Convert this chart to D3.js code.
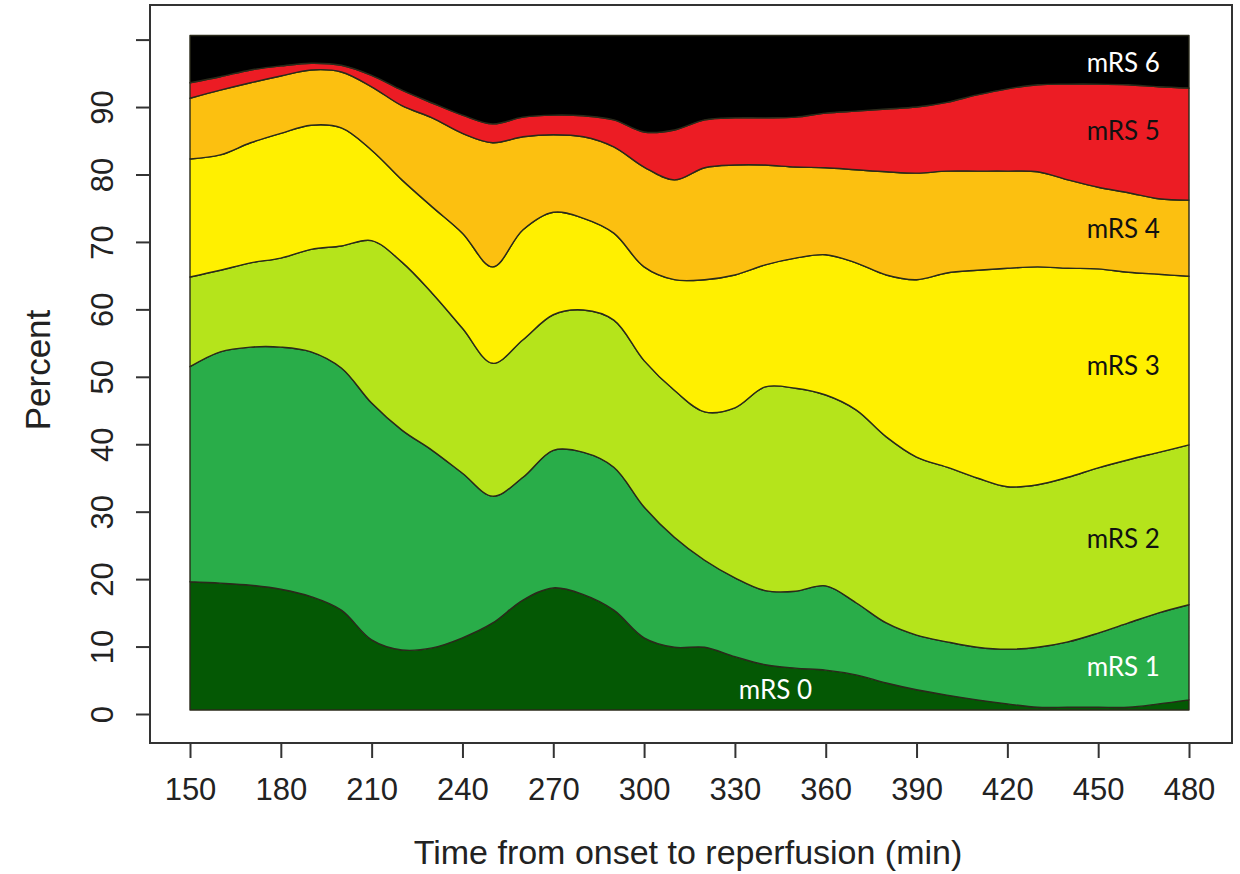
<!DOCTYPE html>
<html>
<head>
<meta charset="utf-8">
<script src="https://cdn.jsdelivr.net/npm/d3@7"></script>
<style>
  body { margin: 0; background: #fff; }
</style>
</head>
<body>
<div id="wrapper"></div>
<script>
// Tempo desde o inicio ate a reperfusao (min)
const times = [150, 160, 170, 180, 190, 200, 210, 220, 230, 240, 250, 260, 270, 280, 290, 300, 310,
  320, 330, 340, 350, 360, 370, 380, 390, 400, 410, 420, 430, 440, 450, 460, 470, 480];

// Percentual de cada categoria mRS em cada tempo
const mrs0 = [19.0, 18.8, 18.5, 17.9, 16.8, 14.8, 10.4, 8.9, 9.2, 10.7, 12.9, 16.3, 18.1, 17.1, 14.8, 10.7, 9.3,
  9.3, 7.9, 6.7, 6.2, 5.9, 5.2, 4.0, 3.0, 2.2, 1.5, 0.9, 0.4, 0.4, 0.4, 0.4, 0.9, 1.5];
const mrs1 = [31.9, 34.3, 35.3, 35.9, 36.3, 35.9, 35.1, 32.6, 29.3, 24.4, 18.8, 18.2, 20.4, 21.1, 21.2, 19.4, 16.3,
  12.9, 11.7, 11.0, 11.4, 12.5, 10.7, 8.9, 8.1, 7.9, 7.8, 8.1, 8.9, 9.7, 11.0, 12.5, 13.5, 14.1];
const mrs2 = [13.3, 12.1, 12.5, 13.2, 15.2, 18.1, 24.1, 24.9, 23.3, 21.5, 19.7, 20.4, 20.1, 21.1, 21.8, 21.7, 21.8,
  22.0, 25.2, 30.2, 30.1, 28.3, 28.6, 27.6, 26.4, 25.9, 25.1, 24.1, 24.1, 24.4, 24.5, 24.2, 23.8, 23.7];
const mrs3 = [17.5, 17.1, 17.8, 18.5, 18.4, 17.5, 13.4, 12.2, 12.8, 14.1, 14.3, 16.3, 15.2, 13.6, 12.9, 13.9, 16.4,
  19.6, 19.7, 18.1, 19.3, 20.8, 21.8, 24.0, 26.3, 28.8, 30.8, 32.4, 32.3, 31.0, 29.5, 27.8, 26.4, 25.0];
const mrs4 = [9.0, 9.6, 8.9, 8.5, 8.2, 8.3, 9.4, 11.0, 13.2, 14.8, 18.4, 13.8, 11.5, 12.1, 12.8, 14.8, 14.8,
  16.6, 16.3, 14.8, 13.5, 12.9, 13.8, 15.3, 15.8, 15.1, 14.7, 14.4, 14.1, 13.1, 12.1, 11.8, 11.2, 11.3];
const mrs5 = [2.3, 2.0, 1.9, 1.5, 1.0, 1.0, 1.7, 2.3, 2.2, 2.7, 2.8, 2.9, 2.9, 3.1, 4.0, 5.2, 7.4,
  7.1, 7.0, 7.0, 7.4, 8.1, 8.7, 9.3, 9.8, 10.2, 11.3, 12.2, 12.9, 14.2, 15.3, 16.0, 16.6, 16.6];
const mrs6 = [7.0, 6.1, 5.1, 4.5, 4.1, 4.4, 5.9, 8.1, 10.0, 11.8, 13.1, 12.1, 11.8, 11.9, 12.5, 14.3, 14.0,
  12.5, 12.2, 12.2, 12.1, 11.5, 11.2, 10.9, 10.6, 9.9, 8.8, 7.9, 7.3, 7.2, 7.2, 7.3, 7.6, 7.8];

const seriesNames = ["mRS 0", "mRS 1", "mRS 2", "mRS 3", "mRS 4", "mRS 5", "mRS 6"];
const seriesColors = ["#045804", "#29ad49", "#b5e41b", "#fff000", "#fcc010", "#ec1c24", "#000000"];
const labelColors = ["#ffffff", "#ffffff", "#111111", "#111111", "#111111", "#111111", "#ffffff"];
// posicao dos rotulos (tempo da borda direita, percentual da linha de base)
const labelTimes = [355.5, 470.4, 470.4, 470.4, 470.4, 470.4, 470.4];
const labelValues = [2.2, 5.6, 24.6, 50.3, 70.6, 85.1, 95.2];

const xTicks = [150, 180, 210, 240, 270, 300, 330, 360, 390, 420, 450, 480];
const yTicks = [0, 10, 20, 30, 40, 50, 60, 70, 80, 90, 100];
const yTickLabels = ["0", "10", "20", "30", "40", "50", "60", "70", "80", "90", ""];
const baseline = 0.6;

function draw() {
  const dimensions = {
    width: 1240,
    height: 874,
    box: { left: 150, top: 5, right: 1232, bottom: 743 }
  };

  const rows = times.map((t, i) => {
    const row = { time: t };
    [mrs0, mrs1, mrs2, mrs3, mrs4, mrs5, mrs6].forEach((s, k) => { row[seriesNames[k]] = s[i]; });
    return row;
  });

  const svg = d3.select("#wrapper")
    .append("svg")
    .attr("width", dimensions.width)
    .attr("height", dimensions.height)
    .style("font-family", "'Liberation Sans', Arial, sans-serif");

  // Escalas
  const xScale = d3.scaleLinear().domain([150, 480]).range([190, 1189]);
  const yScale = d3.scaleLinear().domain([0, 100]).range([714, 39.6]);

  const stack = d3.stack().keys(seriesNames);
  const layers = stack(rows);
  layers.forEach(layer => layer.forEach(p => { p[0] += baseline; p[1] += baseline; }));

  const area = d3.area()
    .x(d => xScale(d.data.time))
    .y0(d => yScale(d[0]))
    .y1(d => yScale(d[1]))
    .curve(d3.curveCatmullRom.alpha(0.5));

  svg.append("g")
    .selectAll("path")
    .data(layers)
    .enter()
    .append("path")
    .attr("d", area)
    .attr("fill", (d, i) => seriesColors[i])
    .attr("stroke", "#2a2a1a")
    .attr("stroke-width", 1.4)
    .attr("stroke-linejoin", "round");

  // Rotulos das categorias
  svg.append("g")
    .selectAll("text")
    .data(seriesNames)
    .enter()
    .append("text")
    .attr("x", (d, i) => xScale(labelTimes[i]))
    .attr("y", (d, i) => yScale(labelValues[i]))
    .attr("text-anchor", "end")
    .attr("fill", (d, i) => labelColors[i])
    .style("font-family", "Lato, 'Open Sans', sans-serif")
    .style("font-size", "26px")
    .text(d => d);

  // Moldura
  svg.append("rect")
    .attr("x", dimensions.box.left)
    .attr("y", dimensions.box.top)
    .attr("width", dimensions.box.right - dimensions.box.left)
    .attr("height", dimensions.box.bottom - dimensions.box.top)
    .attr("fill", "none")
    .attr("stroke", "#333")
    .attr("stroke-width", 2);

  // Eixo x
  const xAxis = svg.append("g")
    .attr("transform", "translate(0," + dimensions.box.bottom + ")")
    .call(d3.axisBottom(xScale).tickValues(xTicks).tickSize(15).tickPadding(20).tickFormat(d3.format("d")));
  xAxis.select(".domain").remove();
  xAxis.selectAll("line").attr("stroke", "#333").attr("stroke-width", 2);
  xAxis.selectAll("text").attr("fill", "#222").style("font-size", "31px").style("font-family", "'Liberation Sans', Arial, sans-serif");

  // Eixo y
  const yAxis = svg.append("g")
    .attr("transform", "translate(" + dimensions.box.left + ",0)")
    .call(d3.axisLeft(yScale).tickValues(yTicks).tickSize(14).tickFormat((d, i) => yTickLabels[i]));
  yAxis.select(".domain").remove();
  yAxis.selectAll("line").attr("stroke", "#333").attr("stroke-width", 2);
  yAxis.selectAll("text")
    .attr("x", null)
    .attr("dy", null)
    .attr("text-anchor", "middle")
    .attr("transform", "translate(-37,0) rotate(-90)")
    .attr("fill", "#222")
    .style("font-size", "31px")
    .style("font-family", "'Liberation Sans', Arial, sans-serif");

  // Titulos dos eixos
  svg.append("text")
    .attr("x", 688)
    .attr("y", 864)
    .attr("text-anchor", "middle")
    .attr("fill", "#222")
    .style("font-size", "34px")
    .text("Time from onset to reperfusion (min)");

  svg.append("text")
    .attr("transform", "translate(50," + 370 + ") rotate(-90)")
    .attr("text-anchor", "middle")
    .attr("fill", "#222")
    .style("font-size", "35px")
    .text("Percent");
}
draw();
</script>
</body>
</html>
